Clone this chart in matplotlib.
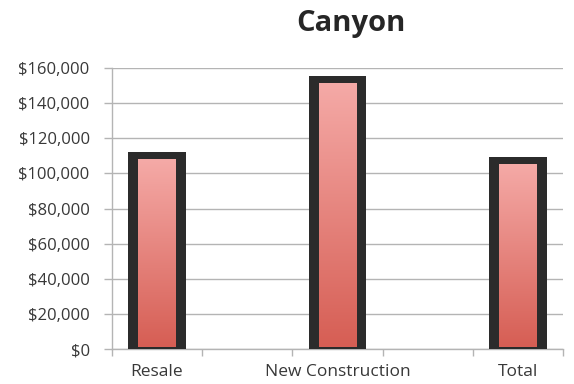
import numpy as np
import matplotlib
matplotlib.use("Agg")
import matplotlib.pyplot as plt
from matplotlib.colors import LinearSegmentedColormap
from matplotlib.patches import Rectangle
from matplotlib.ticker import FuncFormatter

# chart data
categories = ["Resale", "", "New Construction", "", "Total"]
values = [110000, None, 153500, None, 107500]
title = "Canyon"

plt.rcParams['font.family'] = ['Open Sans', 'DejaVu Sans']
text_color = "#383838"
grid_color = "#b4b4b4"

fig = plt.figure(figsize=(5.74, 3.84), dpi=100)
ax = fig.add_axes([0.195, 0.091, 0.786, 0.732])

cmap = LinearSegmentedColormap.from_list("bar", ["#d65e54", "#f5aaa7"])
grad = np.linspace(0, 1, 256).reshape(-1, 1)

outer_half = 0.317
inner_half = 0.21
pad = 1900

for i, v in enumerate(values):
    if v is None:
        continue
    ax.add_patch(Rectangle((i - outer_half, 0), 2 * outer_half, v + pad,
                           facecolor="#2b2b2b", edgecolor="none", zorder=3))
    inner = Rectangle((i - inner_half, 1300), 2 * inner_half, v - pad - 1300,
                      facecolor="none", edgecolor="none", zorder=4)
    ax.add_patch(inner)
    im = ax.imshow(grad, cmap=cmap, aspect="auto", origin="lower",
                   extent=(i - inner_half, i + inner_half, 1300, v - pad), zorder=4)
    im.set_clip_path(inner)

ax.set_xlim(-0.5, len(categories) - 0.5)
ax.set_ylim(0, 160000)
ax.set_yticks(np.arange(0, 160001, 20000))
ax.yaxis.set_major_formatter(FuncFormatter(lambda x, p: f"${x:,.0f}"))
ax.grid(axis="y", color=grid_color, linewidth=1, zorder=0)
ax.set_axisbelow(True)

ax.set_xticks(range(len(categories)))
ax.set_xticklabels(categories)
ax.set_xticks(np.arange(-0.5, len(categories), 1), minor=True)
ax.tick_params(axis="x", which="major", length=0, pad=11, labelsize=12.5, labelcolor=text_color)
ax.tick_params(axis="x", which="minor", length=5, color=grid_color, width=1)
ax.tick_params(axis="y", length=6, color=grid_color, width=1, labelsize=12,
               labelcolor=text_color, pad=10)

for s in ["top", "right"]:
    ax.spines[s].set_visible(False)
for s in ["left", "bottom"]:
    ax.spines[s].set_color(grid_color)
    ax.spines[s].set_linewidth(1)

fig.text(351 / 574, 1 - 24 / 384, title, ha="center", va="center",
         fontsize=21, fontweight="bold", color="#262626")

fig.savefig("out.png", dpi=100)
